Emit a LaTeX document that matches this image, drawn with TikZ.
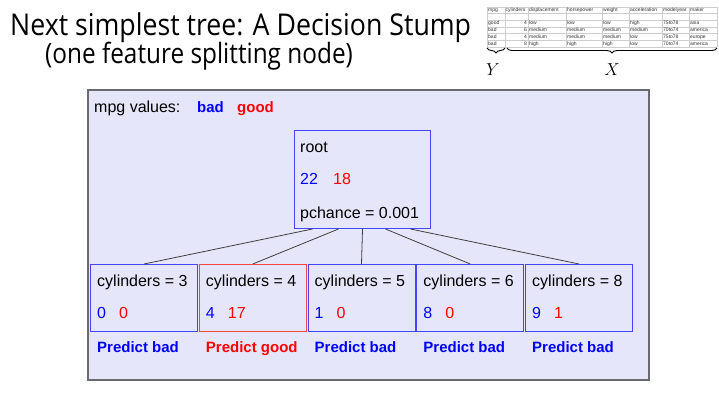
\documentclass[tikz,border=0pt]{standalone}
\usepackage{fontspec}
\setmainfont{Liberation Sans}
\newfontfamily\titlefont{Open Sans}
\usetikzlibrary{positioning,decorations.pathreplacing}
\definecolor{panelbg}{RGB}{230,230,250}
\definecolor{panelgray}{RGB}{105,105,110}
\definecolor{boxblue}{RGB}{70,70,255}
\definecolor{boxred}{RGB}{245,70,70}
\definecolor{badblue}{RGB}{0,0,255}
\definecolor{goodred}{RGB}{255,0,0}
\definecolor{gridgray}{RGB}{205,205,205}
\tikzset{
  txt/.style={anchor=base west, inner sep=0pt, font=\fontsize{16}{18}\selectfont},
  predtxt/.style={anchor=base west, inner sep=0pt, font=\fontsize{15}{18}\selectfont\bfseries},
  treebox/.style={draw=boxblue, line width=1pt, inner sep=0pt, anchor=north west},
  treeline/.style={draw=black!75, line width=0.8pt},
  cell/.style={anchor=base west, inner sep=0pt, font=\fontsize{5}{6}\selectfont, text=black!80}
}
\begin{document}
\begin{tikzpicture}[x=1pt, y=-1pt]
\useasboundingbox (0,0) rectangle (719,401);
% title
\node[anchor=base west, inner sep=0pt, font=\titlefont\fontsize{30}{36}\selectfont] (title) at (10,36)
  {\scalebox{0.89}[1]{Next simplest tree: A Decision Stump}};
\node[anchor=base west, inner sep=0pt, font=\titlefont\fontsize{28}{34}\selectfont] (subtitle) at (45,64)
  {\scalebox{0.87}[1]{(one feature splitting node)}};
% data table
\fill[white] (487,7) rectangle (717,47);
\foreach \cx in {487,505,528,566,602,629,662,689,717}
  \draw[gridgray, line width=0.4pt] (\cx,7) -- (\cx,47);
\foreach \ry in {7,13.5,20,26.75,33.5,40.25,47}
  \draw[gridgray, line width=0.4pt] (487,\ry) -- (717,\ry);
\foreach \cx/\head in {488/mpg,505.5/cylinders,529/displacement,567/horsepower,603/weight,630/acceleration,663/modelyear,690/maker}
  \node[cell] at (\cx,12) {\head};
\foreach \ry/\y/\c/\d/\h/\w/\a/\m/\k in {25/good/4/low/low/low/high/75to78/asia,
    31.75/bad/6/medium/medium/medium/medium/70to74/america,
    38.5/bad/4/medium/medium/medium/low/75to78/europe,
    45.25/bad/8/high/high/high/low/70to74/america} {
  \node[cell] at (488,\ry) {\y};
  \node[cell, anchor=base east] at (527,\ry) {\c};
  \node[cell] at (529,\ry) {\d};
  \node[cell] at (567,\ry) {\h};
  \node[cell] at (603,\ry) {\w};
  \node[cell] at (630,\ry) {\a};
  \node[cell] at (663,\ry) {\m};
  \node[cell] at (690,\ry) {\k};
}
\coordinate (ybl) at (487,48);
\coordinate (ybr) at (505,48);
\coordinate (xbl) at (507,48);
\coordinate (xbr) at (717,48);
\draw[decorate, decoration={brace, mirror, amplitude=5pt}, line width=0.9pt] (ybl) -- (ybr);
\draw[decorate, decoration={brace, mirror, amplitude=5pt}, line width=0.9pt] (xbl) -- (xbr);
\node[font=\fontsize{18}{20}\selectfont] (ylab) at (493,70) {$Y$};
\node[font=\fontsize{18}{20}\selectfont] (xlab) at (612,70) {$X$};
% panel
\draw[panelgray, line width=1.5pt, fill=panelbg] (88,90) rectangle (649,380);
\node[txt] (legend) at (94,112) {mpg values:};
\node[predtxt, text=badblue] (legbad) at (197,112) {bad};
\node[predtxt, text=goodred] (leggood) at (237,112) {good};
% root
\node[treebox, minimum width=136pt, minimum height=98pt] (root) at (294,130) {};
\node[txt] at ([xshift=6pt, yshift=-22pt]root.north west) {root};
\node[txt, text=badblue] at ([xshift=6pt, yshift=-54pt]root.north west) {22};
\node[txt, text=goodred] at ([xshift=39pt, yshift=-54pt]root.north west) {18};
\node[txt] at ([xshift=6pt, yshift=-88pt]root.north west) {pchance = 0.001};
% leaves
\foreach \cyl/\nb/\ng/\pred/\bcol/\pcol/\dx [count=\i from 0] in {3/0/0/bad/boxblue/badblue/-50,
    4/4/17/good/boxred/goodred/-24, 5/1/0/bad/boxblue/badblue/0,
    6/8/0/bad/boxblue/badblue/23, 8/9/1/bad/boxblue/badblue/48} {
  \pgfmathsetmacro\lx{90+108.75*\i}
  \node[treebox, draw=\bcol, minimum width=107pt, minimum height=67pt] (leaf\cyl) at (\lx,264) {};
  \node[txt] at ([xshift=7pt, yshift=-22pt]leaf\cyl.north west) {cylinders = \cyl};
  \node[txt, text=badblue] at ([xshift=7pt, yshift=-54pt]leaf\cyl.north west) {\nb};
  \node[txt, text=goodred] at ([xshift=29pt, yshift=-54pt]leaf\cyl.north west) {\ng};
  \node[predtxt, text=\pcol] at ([xshift=7pt, yshift=-88pt]leaf\cyl.north west) {Predict \pred};
  \draw[treeline] ([xshift=\dx pt]root.south) -- (leaf\cyl.north);
}
\end{tikzpicture}
\end{document}
